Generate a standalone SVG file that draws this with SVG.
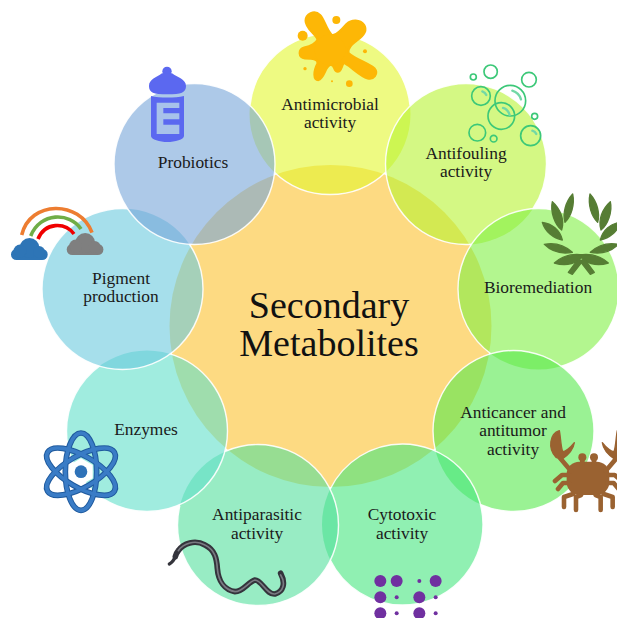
<svg xmlns="http://www.w3.org/2000/svg" xmlns:xlink="http://www.w3.org/1999/xlink" width="617" height="618" viewBox="0 0 617 618">
<style>
text{font-family:"Liberation Serif","Times New Roman",serif;font-size:17.4px;fill:#1a1a1a;text-anchor:middle}
.title{font-size:38px;fill:#111}
.c{stroke:#fff;stroke-width:1.4;fill-opacity:.6;stroke-opacity:.9}
.bub{fill:none;stroke:#3cc878;stroke-width:5}
.hl{fill:none;stroke:#72d8a6;stroke-width:7;stroke-linecap:round}
.arc{fill:none;stroke-width:3.6}
.crab{fill:none;stroke:#9a6231;stroke-width:4.6;stroke-linecap:round;stroke-linejoin:round}
.leaf{fill:#567d34;stroke:#567d34;stroke-width:4;stroke-linejoin:round}
.dotb{fill:#7030a0}
</style>
<defs>
<g id="cloud"><rect x="0" y="11" width="36.7" height="11" rx="5.5"/><circle cx="18.5" cy="10" r="10"/><circle cx="9" cy="13" r="6.5"/><circle cx="28" cy="14" r="6"/></g>
<g id="claw"><path d="M58,32C30,40 22,85 48,112L65,118C85,105 100,90 103,68C90,85 75,95 68,95C62,80 62,50 58,32Z" fill="#9a6231" stroke="#9a6231" stroke-width="4" stroke-linejoin="round"/><g transform="scale(3)" class="crab"><path d="M20,38L31,51M28,55H22L15,61M29,63H23L18,69M33,74L24,77V87M41,75L36,77V90"/></g></g>
<g id="laurel" class="leaf"><path d="M52,50C75,70 90,105 80,135C60,120 45,80 52,50Z"/><path d="M113,27C120,60 108,95 90,112C82,85 92,50 113,27Z"/><path d="M22,112C50,115 75,135 82,165C55,160 30,140 22,112Z"/><path d="M28,178C60,172 90,182 112,202C80,208 50,200 28,178Z"/><path d="M58,234C85,210 120,206 145,210C130,235 95,245 58,234Z"/><path d="M100,262L130,222L143,228L112,268Z"/></g>
</defs>

<g id="node-center"><circle cx="330.5" cy="326" r="161" fill="#fcc22e" fill-opacity=".6"/><text class="title" x="329" y="318">Secondary</text><text class="title" x="329" y="356">Metabolites</text></g>

<g id="node-antimicrobial"><circle class="c" cx="330" cy="114" r="80.5" fill="#e3f72f" pathLength="360" stroke-dasharray="88 52 168 52" stroke-dashoffset="-46"/>
<g transform="translate(285,0) scale(.3333)" fill="#fdb706"><path stroke="#fdb706" stroke-width="7" stroke-linejoin="round" d="M62,62C62,42 88,28 105,45C118,58 122,85 140,105C150,110 165,95 185,72C200,58 225,58 237,75C248,92 235,108 215,122C200,133 188,145 190,158C205,175 250,190 268,205C282,222 265,240 248,235C225,228 205,205 180,190C170,185 172,215 158,215C145,215 150,190 135,195C120,200 118,235 100,240C85,240 85,215 98,190C100,178 85,175 60,175C40,172 38,148 60,142C75,140 95,130 98,118C90,100 62,85 62,62Z"/><circle cx="135" cy="150" r="46"/><circle cx="154" cy="60" r="12"/><circle cx="53" cy="107" r="15"/><circle cx="240" cy="154" r="6"/><circle cx="60" cy="206" r="5"/><circle cx="141" cy="244" r="3"/><circle cx="193" cy="251" r="10"/></g>
<text x="330" y="110">Antimicrobial</text><text x="330" y="128">activity</text></g>

<g id="node-antifouling"><circle class="c" cx="466" cy="164" r="80.5" fill="#b7f332" pathLength="360" stroke-dasharray="308 52" stroke-dashoffset="-86"/>
<g transform="translate(307,0) scale(.3333)"><circle class="bub" cx="551" cy="215" r="20"/><circle class="bub" cx="499" cy="231" r="9"/><circle class="bub" cx="666" cy="239" r="22"/><circle class="bub" cx="522" cy="288" r="28"/><circle class="bub" cx="610" cy="302" r="46"/><circle class="bub" cx="583" cy="348" r="40"/><circle class="bub" cx="683" cy="349" r="9"/><circle class="bub" cx="511" cy="398" r="25"/><circle class="bub" cx="560" cy="416" r="10"/><circle class="bub" cx="671" cy="407" r="30"/><path class="hl" d="M616,272Q636,278 642,298"/><path class="hl" d="M588,324Q603,328 608,345"/><path class="hl" d="M526,274Q535,277 538,285"/><path class="hl" d="M676,392Q685,394 688,402"/></g>
<text x="466" y="159">Antifouling</text><text x="466" y="177">activity</text></g>

<g id="node-bioremediation"><circle class="c" cx="538.5" cy="289" r="80.5" fill="#80f044" pathLength="360" stroke-dasharray="308 52" stroke-dashoffset="-126"/>
<g transform="translate(535,185) scale(.3333)"><use xlink:href="#laurel" href="#laurel"/><use xlink:href="#laurel" href="#laurel" transform="translate(278,0) scale(-1,1)"/></g>
<text x="538" y="293">Bioremediation</text></g>

<g id="node-anticancer"><circle class="c" cx="513.5" cy="431" r="80.5" fill="#57e94d" pathLength="360" stroke-dasharray="308 52" stroke-dashoffset="-166"/>
<g transform="translate(540,420) scale(.3333)" fill="#9a6231"><rect x="80" y="125" width="128" height="100" rx="38"/><circle cx="127" cy="112" r="12"/><circle cx="162" cy="112" r="12"/><rect x="120" y="112" width="14" height="25"/><rect x="155" y="112" width="14" height="25"/><use xlink:href="#claw" href="#claw"/><use xlink:href="#claw" href="#claw" transform="translate(290,0) scale(-1,1)"/></g>
<text x="513" y="418">Anticancer and</text><text x="513" y="436">antitumor</text><text x="513" y="455">activity</text></g>

<g id="node-cytotoxic"><circle class="c" cx="402.5" cy="524.5" r="80.5" fill="#46e67f" pathLength="360" stroke-dasharray="308 52" stroke-dashoffset="-206"/>
<g transform="translate(360,565) scale(.3333)" class="dotb"><circle cx="61" cy="48" r="18"/><circle cx="110" cy="48" r="18"/><circle cx="227" cy="48" r="18"/><circle cx="61" cy="97" r="18"/><circle cx="178" cy="97" r="18"/><circle cx="61" cy="145" r="18"/><circle cx="178" cy="145" r="18"/><circle cx="178" cy="48" r="6"/><circle cx="110" cy="97" r="6"/><circle cx="227" cy="97" r="6"/><circle cx="110" cy="145" r="6"/><circle cx="227" cy="145" r="6"/></g>
<text x="402" y="520">Cytotoxic</text><text x="402" y="539">activity</text></g>

<g id="node-antiparasitic"><circle class="c" cx="258" cy="525" r="80.5" fill="#53df9d" pathLength="360" stroke-dasharray="308 52" stroke-dashoffset="-246"/>
<g transform="translate(160,530) scale(.3333)" fill="none" stroke-linecap="round"><path d="M28,102C36,98 42,90 46,80" stroke="#34343c" stroke-width="10"/><path d="M46,80C48,72 50,68 55,62C70,40 105,28 135,45C165,60 170,85 172,115C175,155 195,180 225,185C250,185 265,155 285,150C305,150 320,195 345,192C370,185 378,160 362,130" stroke="#34343c" stroke-width="17"/><path d="M55,62C70,40 105,28 135,45C165,60 170,85 172,115C175,155 195,180 225,185C250,185 265,155 285,150C305,150 320,195 345,192C370,185 378,160 362,135" stroke="#7a7a82" stroke-width="5"/></g>
<text x="257" y="520">Antiparasitic</text><text x="257" y="539">activity</text></g>

<g id="node-enzymes"><circle class="c" cx="147" cy="431" r="80.5" fill="#61dfca" pathLength="360" stroke-dasharray="308 52" stroke-dashoffset="-286"/>
<g transform="translate(35,425) scale(.3333)"><polygon points="138,100 173,120 173,160 138,180 103,160 103,120" fill="#fff"/>
<g fill="none" stroke="#1f5a9e" stroke-width="17"><ellipse cx="138" cy="140" rx="47" ry="116"/><ellipse cx="138" cy="140" rx="47" ry="116" transform="rotate(60 138 140)"/><ellipse cx="138" cy="140" rx="47" ry="116" transform="rotate(-60 138 140)"/></g>
<g fill="none" stroke="#3a7cc6" stroke-width="11"><ellipse cx="138" cy="140" rx="47" ry="116"/><ellipse cx="138" cy="140" rx="47" ry="116" transform="rotate(60 138 140)"/><ellipse cx="138" cy="140" rx="47" ry="116" transform="rotate(-60 138 140)"/></g>
<circle cx="138" cy="140" r="19" fill="#2f72b8"/></g>
<text x="146" y="435">Enzymes</text></g>

<g id="node-pigment"><circle class="c" cx="122.5" cy="289" r="80.5" fill="#6bcade" pathLength="360" stroke-dasharray="308 52" stroke-dashoffset="-326"/>
<path class="arc" stroke="#ed7d31" d="M21.7,235C30,200 80,200 92,232.7"/><path class="arc" stroke="#70ad47" d="M30.7,236C40,212 70,212 81,229"/><path class="arc" stroke="#f00000" d="M38,239C45,222 65,222 74,234"/>
<use xlink:href="#cloud" href="#cloud" x="11" y="238" fill="#2e75b6"/><use xlink:href="#cloud" href="#cloud" x="66.7" y="233" fill="#7f7f7f"/>
<text x="121" y="284">Pigment</text><text x="121" y="302">production</text></g>

<g id="node-probiotics"><circle class="c" cx="194.5" cy="164" r="80.5" fill="#76a5d9"/>
<g transform="translate(140,62) scale(.3333)" fill="#5b68f0"><circle cx="81" cy="28" r="14"/><path d="M66,34C50,46 27,52 27,72C27,92 40,97 82,97C124,97 138,92 138,72C138,52 112,46 96,34Z"/><path d="M33,102C60,108 105,108 132,102V222C132,233 105,240 82,240C60,240 33,233 33,222Z"/><path d="M50,122H118V138H70V154H118V172H70V188H118V203H70V203H118V216H50Z" fill="#a8c2ea"/></g>
<text x="193" y="168">Probiotics</text></g>
</svg>
